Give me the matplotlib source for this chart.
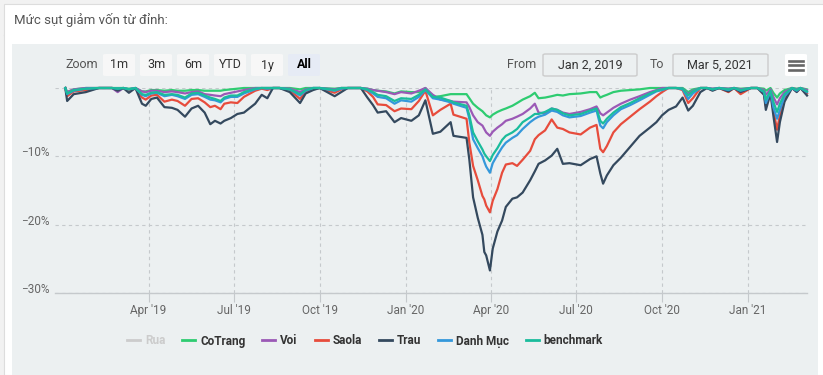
import matplotlib

matplotlib.use("Agg")
import matplotlib.dates as mdates
import matplotlib.pyplot as plt
import pandas as pd
from matplotlib.lines import Line2D
from matplotlib.patches import FancyBboxPatch, Rectangle
from matplotlib.transforms import ScaledTranslation

W, H = 823, 375

dates = [
    "2019-01-02", "2019-01-04", "2019-01-11", "2019-01-24", "2019-02-07", "2019-02-21", "2019-02-27", "2019-03-05",
    "2019-03-11", "2019-03-18", "2019-03-25", "2019-03-29", "2019-04-04", "2019-04-10", "2019-04-18", "2019-04-26",
    "2019-05-02", "2019-05-10", "2019-05-17", "2019-05-24", "2019-05-31", "2019-06-06", "2019-06-11", "2019-06-17",
    "2019-06-21", "2019-06-28", "2019-07-05", "2019-07-12", "2019-07-24", "2019-07-31", "2019-08-06", "2019-08-12",
    "2019-08-19", "2019-08-30", "2019-09-10", "2019-09-16", "2019-09-24", "2019-10-01", "2019-10-17", "2019-10-24",
    "2019-10-31", "2019-11-14", "2019-11-21", "2019-11-27", "2019-12-02", "2019-12-11", "2019-12-20", "2019-12-27",
    "2020-01-07", "2020-01-15",
    "2020-01-22", "2020-01-30", "2020-02-07", "2020-02-18", "2020-02-21", "2020-03-06", "2020-03-09", "2020-03-13",
    "2020-03-18", "2020-03-23", "2020-03-25", "2020-03-27", "2020-03-31", "2020-04-03", "2020-04-08", "2020-04-13",
    "2020-04-17", "2020-04-24", "2020-04-29", "2020-05-05", "2020-05-13", "2020-05-18", "2020-05-22", "2020-05-29",
    "2020-06-05", "2020-06-11", "2020-06-17", "2020-06-24", "2020-07-06", "2020-07-16", "2020-07-23", "2020-07-27",
    "2020-07-30", "2020-08-03", "2020-08-10", "2020-08-18", "2020-08-28", "2020-09-07", "2020-09-18", "2020-09-25",
    "2020-10-01", "2020-10-08", "2020-10-16", "2020-10-23", "2020-10-29", "2020-11-03", "2020-11-11", "2020-11-18",
    "2020-11-24", "2020-12-01", "2020-12-11", "2020-12-17", "2020-12-24", "2021-01-04",
    "2021-01-11", "2021-01-18", "2021-01-20", "2021-01-25", "2021-01-28", "2021-02-01", "2021-02-04", "2021-02-09",
    "2021-02-17", "2021-02-22", "2021-02-26", "2021-03-05",
]

# drawdown from peak, in %
cotrang = [
    0, -0.6, -0.2, 0, 0, 0, 0, 0, -0.1, 0, -0.5, -0.5, -0.3, -0.3, -0.4, -0.3, -0.4, -0.4, -0.3, -0.3,
    -0.4, -0.4, -0.4, -0.4, -0.3, -0.2, -0.1, 0, 0, 0, 0, 0, 0, 0, -0.2, 0, 0, 0, -0.1, 0,
    0, 0, -0.1, -0.3, -0.4, -0.5, -0.8, -0.5, -0.6, -0.6,
    0, -1.3, -1.2, -0.9, -0.9, -0.9, -1.5, -2.3, -2.9, -3.4, -3.7, -4.0, -4.3,
    -3.9, -3.5, -3.2, -3.0, -2.6, -2.2, -1.7, -1.2, -0.7, -1.5, -1.4, -1.2, -1.0, -1.1, -0.9,
    -0.8, -0.6, -0.6, -1.4, -1.2, -1.0, -0.6, -0.4, -0.3, -0.2, 0, 0, 0,
    0, 0, 0, -0.6, -0.2, 0, 0, -0.1, 0, -0.1, 0, -0.1, 0,
    0, -0.1, -0.4, 0, -0.7, -1.4, -0.8, -0.3, 0, -0.1, 0, -0.2,
]
voi = [
    0, -0.6, -0.2, 0, 0, 0, -0.6, 0, -0.2, 0, -0.5, -0.6, -0.4, -0.4, -0.6, -0.5, -0.6, -0.8, -0.6, -0.5,
    -0.9, -1.0, -1.1, -1.2, -0.9, -0.7, -0.5, -0.3, 0, 0, 0, 0, 0, -0.1, -0.6, -0.2, 0, 0, -0.2, 0,
    0, 0, -0.1, -0.3, -0.4, -0.6, -0.9, -0.6, -0.8, -0.4,
    0, -1.0, -1.7, -1.9, -2.0, -2.1, -2.8, -4.0, -5.0, -5.5, -6.0, -6.5, -7.0,
    -6.4, -5.8, -5.3, -4.8, -4.5, -4.2, -3.8, -3.0, -2.3, -3.6, -3.7, -3.0, -3.2, -3.6, -3.8,
    -3.5, -3.1, -2.7, -3.7, -4.0, -3.6, -2.9, -2.3, -1.7, -1.2, -0.6, -0.3, 0,
    0, 0, -0.1, -0.9, -0.4, 0, 0, -0.1, 0, -0.1, 0, -0.2, 0,
    0, -0.3, -1.0, -0.2, -1.3, -2.4, -1.5, -0.6, 0, -0.2, 0, -0.3,
]
saola = [
    0, -1.2, -0.5, -0.3, 0, 0, -0.2, 0, -0.4, 0, -1.4, -1.7, -1.1, -1.0, -2.0, -1.7, -1.9, -2.6, -1.6, -1.5,
    -2.1, -2.8, -2.6, -3.1, -2.3, -2.1, -2.2, -1.3, -0.4, -0.1, -0.3, 0, 0, -0.3, -1.6, -0.5, -0.1, 0, -0.7, -0.2,
    0, 0, -0.5, -1.3, -2.4, -2.5, -3.4, -3.0, -3.1, -1.9,
    -0.4, -4.0, -3.2, -2.3, -3.9, -4.5, -8.0, -11.4, -13.5, -15.8, -16.3, -17.2, -18.2,
    -16.5, -14.8, -12.4, -11.2, -11.0, -11.4, -10.5, -9.2, -7.5, -6.9, -6.2, -4.6, -5.8, -6.0, -6.5,
    -6.8, -5.8, -5.4, -8.9, -9.4, -8.5, -6.5, -5.3, -4.2, -3.1, -2.0, -1.2, -0.6,
    0, 0, -0.3, -2.2, -1.5, 0, 0, -0.3, 0, -0.6, 0, -0.9, 0,
    0, -0.8, -2.6, -0.6, -3.2, -6.1, -4.0, -1.5, 0, -0.5, 0, -0.8,
]
trau = [
    0, -1.9, -0.9, -0.6, 0, 0, -0.4, 0, -0.7, 0, -2.3, -2.6, -1.6, -1.4, -2.8, -2.9, -3.2, -4.2, -3.0, -2.6,
    -3.6, -5.3, -4.8, -5.2, -4.8, -4.4, -3.8, -3.6, -2.3, -1.0, -1.5, 0, 0, -0.6, -2.2, -0.8, -0.3, 0, -1.2, -0.6,
    0, 0, -1.4, -2.5, -3.6, -3.4, -5.0, -4.4, -4.8, -4.0,
    -1.8, -6.7, -6.4, -5.0, -7.0, -7.3, -10.5, -16.0, -19.0, -21.5, -24.0, -24.5, -26.7,
    -23.5, -21.0, -19.4, -17.4, -16.2, -16.0, -15.3, -13.5, -12.2, -11.1, -10.6, -9.9, -8.9, -11.1, -11.0,
    -11.3, -10.4, -10.0, -12.5, -14.0, -12.8, -11.3, -10.2, -8.6, -7.0, -5.8, -5.0, -4.0,
    -3.2, -2.7, -1.4, -3.3, -2.6, -0.6, 0, -0.4, 0, -0.5, 0, -0.6, 0,
    0, -1.0, -3.2, -0.8, -4.0, -7.9, -5.0, -2.0, 0, -0.6, 0, -1.1,
]
danh_muc = [
    0, -0.9, -0.4, -0.1, 0, 0, -0.1, 0, -0.2, 0, -1.0, -1.2, -0.8, -0.7, -1.2, -1.0, -1.2, -1.6, -1.0, -0.9,
    -1.3, -1.7, -1.8, -2.1, -1.6, -1.3, -1.3, -0.8, -0.2, 0, -0.1, 0, 0, -0.2, -1.1, -0.4, 0, 0, -0.4, -0.1,
    0, 0, -0.3, -0.8, -1.3, -1.5, -2.3, -1.8, -2.0, -1.3,
    -0.3, -1.5, -1.7, -2.1, -2.3, -2.9, -4.5, -7.5, -8.8, -10.0, -10.8, -11.5, -12.4,
    -11.0, -9.8, -8.7, -8.0, -7.3, -6.9, -6.0, -5.0, -4.5, -4.2, -3.9, -3.3, -3.5, -4.0, -4.3,
    -4.1, -3.6, -3.3, -5.5, -5.9, -5.0, -4.0, -3.1, -2.5, -1.8, -1.0, -0.5, -0.3,
    0, 0, -0.2, -1.6, -0.8, 0, 0, -0.2, 0, -0.3, 0, -0.4, 0,
    0, -0.6, -2.2, -0.5, -2.8, -4.5, -3.2, -1.2, 0, -0.4, 0, -0.6,
]
benchmark = [
    0, -0.8, -0.3, -0.1, 0, 0, -0.1, 0, -0.2, 0, -0.9, -1.0, -0.7, -0.6, -1.0, -0.9, -1.0, -1.4, -0.8, -0.7,
    -1.1, -1.4, -1.6, -1.9, -1.4, -1.1, -1.1, -0.6, -0.1, 0, 0, 0, 0, -0.2, -0.9, -0.3, 0, 0, -0.3, 0,
    0, 0, -0.2, -0.6, -1.0, -1.2, -1.9, -1.5, -1.6, -1.0,
    -0.2, -1.3, -1.4, -1.9, -2.1, -2.6, -4.0, -6.5, -7.8, -9.0, -9.6, -10.0, -10.7,
    -9.8, -8.8, -7.6, -7.0, -6.5, -6.0, -5.0, -4.3, -3.8, -3.8, -3.5, -3.0, -3.2, -3.7, -4.0,
    -3.8, -3.3, -3.0, -4.8, -5.2, -4.5, -3.6, -2.8, -2.2, -1.5, -0.8, -0.4, -0.2,
    0, 0, -0.1, -1.1, -0.5, 0, 0, -0.2, 0, -0.2, 0, -0.3, 0,
    0, -0.5, -1.7, -0.4, -2.0, -3.5, -2.3, -0.9, 0, -0.3, 0, -0.5,
]

series_names = ["Rua", "CoTrang", "Voi", "Saola", "Trau", "Danh Mục", "benchmark"]
series_values = [None, cotrang, voi, saola, trau, danh_muc, benchmark]
series_colors = ["#cccccc", "#2ecc71", "#9b59b6", "#e74c3c", "#34495e", "#3498db", "#1abc9c"]

x_ticks = ["2019-04-01", "2019-07-01", "2019-10-01", "2020-01-01",
           "2020-04-01", "2020-07-01", "2020-10-01", "2021-01-01"]
y_ticks = [-30, -20, -10, 0]
y_labels = ["−30%", "−20%", "−10%", ""]
zoom_buttons = ["1m", "3m", "6m", "YTD", "1y", "All"]
range_from, range_to = "Jan 2, 2019", "Mar 5, 2021"
title = "Mức sụt giảm vốn từ đỉnh:"

plt.rcParams["font.family"] = ["Roboto", "DejaVu Sans"]

x = pd.to_datetime(dates)
for v in series_values[1:]:
    assert len(v) == len(x)

bg = "#ecf0f1"
grid_c = "#c5c9cc"


def fx(px):
    return px / W


def fy(py):
    return 1 - py / H


def box(x0, y0, x1, y1, **kw):
    r = FancyBboxPatch(
        (fx(x0), fy(y1)), fx(x1) - fx(x0), fy(y0) - fy(y1),
        boxstyle="round,pad=0,rounding_size=0.003", transform=fig.transFigure, zorder=-1, **kw
    )
    fig.patches.append(r)


fig = plt.figure(figsize=(W / 100, H / 100), dpi=100)
fig.patch.set_facecolor("#f2f2f2")

fig.patches.append(Rectangle((fx(4), 0), 1, fy(4), transform=fig.transFigure, zorder=-3,
                             facecolor="white", edgecolor="#dddddd", lw=0.8))
fig.add_artist(Line2D([fx(4), 1], [fy(35), fy(35)], color="#dddddd", lw=1, zorder=-3))
fig.text(fx(14), fy(20), title, fontsize=9.5, color="#555555", va="center")
fig.patches.append(Rectangle((fx(12), 0), fx(818) - fx(12), fy(44), transform=fig.transFigure,
                             facecolor=bg, edgecolor="none", zorder=-2))

# range selector
fig.text(fx(65), fy(65), "Zoom", fontsize=9, color="#555555", va="center")
bx = 103
for lab in zoom_buttons:
    sel = lab == "All"
    box(bx, 54, bx + 32, 76, facecolor="#e6ebf5" if sel else "#f7f7f7", edgecolor="none")
    fig.text(fx(bx + 16), fy(65), lab, fontsize=9, ha="center", va="center",
             color="black" if sel else "#333333", fontweight="bold" if sel else "normal")
    bx += 37

fig.text(fx(536), fy(65), "From", fontsize=9, color="#555555", ha="right", va="center")
box(543, 54, 637, 76, facecolor=bg, edgecolor="#cccccc", lw=1)
fig.text(fx(590), fy(65), range_from, fontsize=9, color="#333333", ha="center", va="center")
fig.text(fx(664), fy(65), "To", fontsize=9, color="#555555", ha="right", va="center")
box(673, 54, 768, 76, facecolor=bg, edgecolor="#cccccc", lw=1)
fig.text(fx(720), fy(65), range_to, fontsize=9, color="#333333", ha="center", va="center")

box(785, 54, 807, 76, facecolor="white", edgecolor="none")
for ly in (60.5, 65, 69.5):
    fig.add_artist(Line2D([fx(789), fx(803)], [fy(ly), fy(ly)], color="#666666", lw=1.9))

ax = fig.add_axes([fx(55), fy(293), fx(807) - fx(55), fy(88) - fy(293)])
ax.set_zorder(5)
ax.patch.set_alpha(0)

for name, vals, col in zip(series_names[1:], series_values[1:], series_colors[1:]):
    ax.plot(x, vals, color=col, lw=1.6, clip_on=False, zorder=3)

ax.set_ylim(-30, 0)
ax.set_xlim(pd.Timestamp("2018-12-22"), pd.Timestamp("2021-03-05"))
ax.set_yticks(y_ticks)
ax.set_yticklabels(y_labels)
ax.set_xticks(pd.to_datetime(x_ticks))
ax.xaxis.set_major_formatter(mdates.DateFormatter("%b '%y"))

for s in ["top", "right", "left"]:
    ax.spines[s].set_visible(False)
ax.spines["bottom"].set_color(grid_c)
ax.spines["bottom"].set_linewidth(1)

ax.grid(True, linestyle=(0, (3, 3)), color=grid_c, lw=0.8, zorder=0)
ax.tick_params(axis="y", length=0, pad=3.6, labelsize=8.5, labelcolor="#666666")
ax.tick_params(axis="x", length=6.5, width=0.8, color=grid_c, pad=1.5, labelsize=8.5, labelcolor="#666666")
for lab in ax.get_yticklabels():
    lab.set_transform(lab.get_transform() + ScaledTranslation(0, 0.05, fig.dpi_scale_trans))

handles = [Line2D([], [], color=c, lw=2) for c in series_colors]
leg = fig.legend(handles, series_names, loc="center", bbox_to_anchor=(fx(365), fy(341)), ncol=7,
                 frameon=False, handlelength=1.1, handletextpad=0.4, columnspacing=1.45,
                 prop={"size": 8.5, "weight": "bold"})
for t, c in zip(leg.get_texts(), series_colors):
    t.set_color("#cccccc" if c == "#cccccc" else "#333333")

fig.savefig("out.png", dpi=100)
